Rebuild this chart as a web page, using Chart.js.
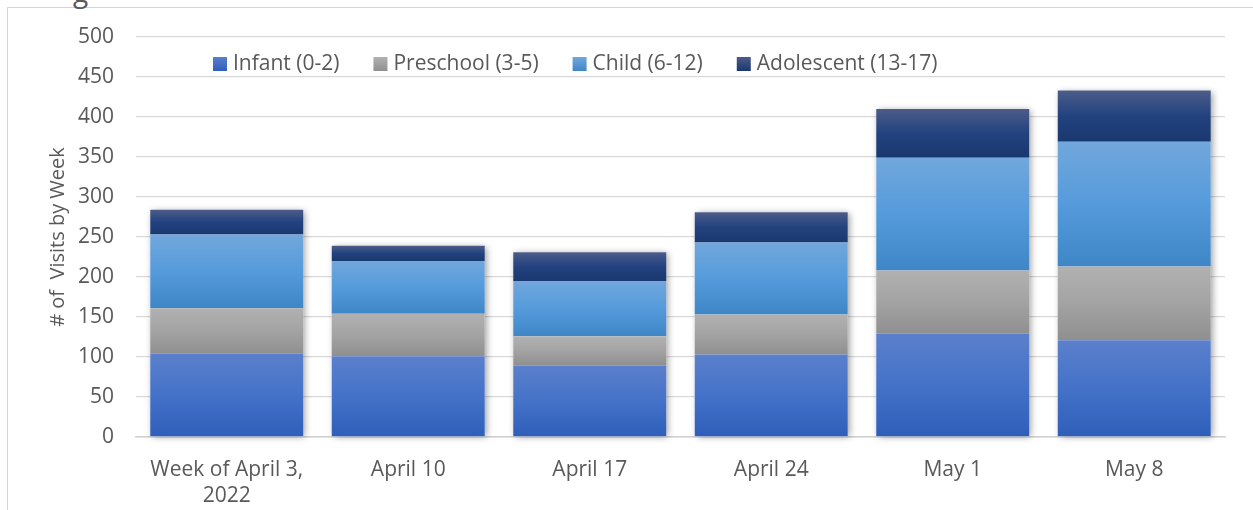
<!DOCTYPE html>
<html>
<head>
<meta charset="utf-8">
<script src="https://cdn.jsdelivr.net/npm/chart.js@4.4.1/dist/chart.umd.min.js"></script>
<style>
  html, body { margin: 0; padding: 0; background: #fff; overflow: hidden; }
  #wrap { position: relative; width: 1253px; height: 510px; }
  #frame { position: absolute; left: 7px; top: 7px; width: 1400px; height: 600px; border-left: 1px solid #d5d5d5; border-top: 1px solid #d5d5d5; }
  #ttl { position: absolute; left: 73px; top: -28px; font: 28px "Open Sans", sans-serif; color: #595959; }
  canvas { position: absolute; left: 0; top: 0; }
</style>
</head>
<body>
<div id="wrap">
  <div id="frame"></div>
  <div id="ttl">g</div>
  <canvas id="c" width="1253" height="510"></canvas>
</div>
<script>
const categories = [["Week of April 3,", "2022"], "April 10", "April 17", "April 24", "May 1", "May 8"];
const seriesNames = ["Infant (0-2)", "Preschool (3-5)", "Child (6-12)", "Adolescent (13-17)"];
const infant = [104, 101, 89, 103, 129, 121];
const preschool = [57, 53, 37, 50, 79, 92];
const child = [92, 66, 69, 90, 141, 156];
const adolescent = [31, 19, 36, 38, 61, 64];
const yTicks = [0, 50, 100, 150, 200, 250, 300, 350, 400, 450, 500];
const yTitle = "# of  Visits by Week";

const seriesData = [infant, preschool, child, adolescent];
const gradStops = [
  ["#5b80cc", "#4472c8", "#2e5eb9"],
  ["#b1b1b1", "#a3a3a3", "#8f8f8f"],
  ["#71a7dc", "#559bdb", "#3f86c6"],
  ["#4c5c89", "#22427f", "#1a386f"]
];
const FONT = '"Open Sans", sans-serif';
const TXT = '#595959';

function segBounds(ds, i) {
  let base = 0;
  for (let k = 0; k < ds; k++) base += seriesData[k][i];
  return [base, base + seriesData[ds][i]];
}

function fillFor(ds) {
  return function (ctx) {
    const chart = ctx.chart;
    const y = chart.scales && chart.scales.y;
    if (!chart.chartArea || !y || ctx.dataIndex === undefined) return gradStops[ds][1];
    const [b, t] = segBounds(ds, ctx.dataIndex);
    const y0 = y.getPixelForValue(t), y1 = y.getPixelForValue(b);
    if (!isFinite(y0) || !isFinite(y1) || y0 === y1) return gradStops[ds][1];
    const g = chart.ctx.createLinearGradient(0, y0, 0, y1);
    g.addColorStop(0, gradStops[ds][0]);
    g.addColorStop(0.5, gradStops[ds][1]);
    g.addColorStop(1, gradStops[ds][2]);
    return g;
  };
}

const shadowPlugin = {
  id: 'stackShadow',
  beforeDatasetsDraw(chart) {
    const c = chart.ctx;
    const first = chart.getDatasetMeta(0).data;
    const last = chart.getDatasetMeta(seriesData.length - 1).data;
    c.save();
    c.shadowColor = 'rgba(0,0,0,0.4)';
    c.shadowBlur = 7;
    c.shadowOffsetX = 2;
    c.shadowOffsetY = 1;
    c.fillStyle = '#ffffff';
    for (let i = 0; i < first.length; i++) {
      const f = first[i], l = last[i];
      const w = f.width;
      c.fillRect(f.x - w / 2, l.y, w, f.base - l.y);
    }
    c.restore();
  }
};

const decorPlugin = {
  id: 'decor',
  afterDraw(chart) {
    const c = chart.ctx;
    c.save();
    c.translate(58, (chart.chartArea.top + chart.chartArea.bottom) / 2);
    c.rotate(-Math.PI / 2);
    c.font = '20px ' + FONT;
    c.fillStyle = TXT;
    c.textAlign = 'center';
    c.textBaseline = 'middle';
    c.fillText(yTitle, 0, 0);
    c.restore();
    c.save();
    c.font = '21px ' + FONT;
    c.textBaseline = 'middle';
    let x = 213;
    const yc = 64;
    chart.data.datasets.forEach((d, k) => {
      const g = c.createLinearGradient(0, yc - 7, 0, yc + 7);
      g.addColorStop(0, gradStops[k][0]);
      g.addColorStop(1, gradStops[k][2]);
      c.fillStyle = g;
      c.fillRect(x, yc - 7, 14, 14);
      c.fillStyle = TXT;
      c.fillText(d.label, x + 20, yc);
      x += 20 + c.measureText(d.label).width + 34;
    });
    c.restore();
  }
};

new Chart(document.getElementById('c'), {
  type: 'bar',
  data: {
    labels: categories,
    datasets: seriesNames.map((n, k) => ({
      label: n,
      data: seriesData[k],
      backgroundColor: fillFor(k),
      borderWidth: 0,
      barPercentage: 0.843,
      categoryPercentage: 1.0
    }))
  },
  options: {
    responsive: false,
    animation: false,
    devicePixelRatio: 1,
    layout: { padding: { top: 37, right: 28, left: 0, bottom: 0 } },
    plugins: { legend: { display: false }, tooltip: { enabled: false }, title: { display: false } },
    scales: {
      x: {
        stacked: true,
        grid: { display: false, drawTicks: false },
        border: { display: true, color: '#d0d0d0', width: 1.5 },
        ticks: { color: TXT, font: { family: FONT, size: 21, lineHeight: 1.25 }, padding: 20, maxRotation: 0, autoSkip: false },
        afterFit(s) { s.height = 510 - 437; }
      },
      y: {
        stacked: true,
        min: 0, max: 500,
        afterBuildTicks(s) { s.ticks = yTicks.map(v => ({ value: v })); },
        grid: { color: '#d9d9d9', lineWidth: 1.3, drawTicks: false },
        border: { display: false },
        ticks: { color: TXT, font: { family: FONT, size: 21 }, padding: 22 },
        afterFit(s) { s.width = 136; }
      }
    }
  },
  plugins: [shadowPlugin, decorPlugin]
});
</script>
</body>
</html>
